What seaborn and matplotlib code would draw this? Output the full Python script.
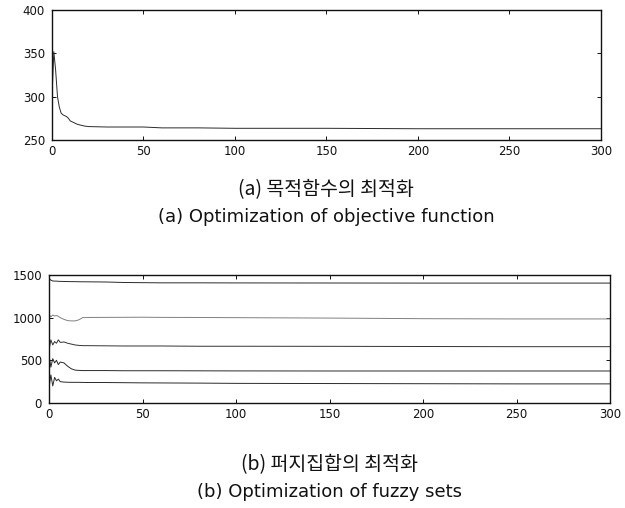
import matplotlib
matplotlib.use("Agg")
import matplotlib.pyplot as plt
import seaborn as sns
import pandas as pd

# ---- data (a): objective function ----
obj_iter = [0, 1, 2, 3, 4, 5, 6, 7, 8, 9, 10, 12, 14, 16, 18, 20, 30, 50, 60, 80, 100, 150, 200, 250, 300]
obj_val = [300, 352, 330, 300, 288, 281, 279, 278, 277, 275, 272, 270, 268, 267, 266, 265.5, 265, 265, 264, 264, 263.5, 263.5, 263, 263, 263]

# ---- data (b): fuzzy set centres ----
fz_iter = [0, 1, 2, 3, 4, 5, 6, 8, 10, 12, 14, 16, 18, 20, 30, 40, 50, 60, 80, 100, 150, 200, 250, 300]
fz_set1 = [1460, 1440, 1430, 1428, 1428, 1426, 1425, 1424, 1423, 1422, 1422, 1421, 1420, 1420, 1418, 1412, 1410, 1408, 1408, 1407, 1406, 1405, 1405, 1405]
fz_set2 = [1040, 1010, 1030, 1020, 1025, 1015, 1000, 980, 965, 962, 962, 975, 1000, 1002, 1003, 1004, 1005, 1003, 1002, 1000, 995, 988, 985, 985]
fz_set3 = [620, 740, 680, 720, 700, 740, 710, 715, 700, 690, 680, 675, 672, 672, 670, 668, 668, 668, 665, 665, 664, 662, 660, 660]
fz_set4 = [560, 420, 520, 470, 500, 450, 480, 470, 430, 400, 385, 382, 380, 380, 380, 378, 378, 378, 377, 376, 375, 375, 375, 375]
fz_set5 = [180, 330, 200, 300, 260, 280, 250, 245, 243, 242, 242, 242, 241, 240, 240, 238, 236, 235, 233, 230, 228, 226, 224, 224]

obj_xticks = [0, 50, 100, 150, 200, 250, 300]
obj_yticks = [250, 300, 350, 400]
fz_yticks = [0, 500, 1000, 1500]

cap_a_kr = "(a) 목적함수의 최적화"
cap_a_en = "(a) Optimization of objective function"
cap_b_kr = "(b) 퍼지집합의 최적화"
cap_b_en = "(b) Optimization of fuzzy sets"

sns.set_style("ticks")
plt.rcParams["font.family"] = ["DejaVu Sans", "Noto Sans CJK KR"]
plt.rcParams["xtick.direction"] = "in"
plt.rcParams["ytick.direction"] = "in"

fig = plt.figure(figsize=(6.25, 5.08), dpi=100)
ax1 = fig.add_axes([0.0832, 0.7244, 0.878, 0.2559])
ax2 = fig.add_axes([0.0784, 0.2067, 0.8976, 0.2520])

df_a = pd.DataFrame({"iter": obj_iter, "val": obj_val})
sns.lineplot(data=df_a, x="iter", y="val", ax=ax1, color="#2a2a2a", linewidth=0.7)

fz_sets = [fz_set1, fz_set2, fz_set3, fz_set4, fz_set5]
fz_cols = ["#2a2a2a", "#808080", "#333333", "#2a2a2a", "#2a2a2a"]
for s, c in zip(fz_sets, fz_cols):
    df_b = pd.DataFrame({"iter": fz_iter, "val": s})
    sns.lineplot(data=df_b, x="iter", y="val", ax=ax2, color=c, linewidth=0.7)

for ax, yt, ylim in [(ax1, obj_yticks, (250, 400)), (ax2, fz_yticks, (0, 1500))]:
    ax.set_xlim(0, 300)
    ax.set_ylim(*ylim)
    ax.set_xticks(obj_xticks)
    ax.set_yticks(yt)
    ax.set_xlabel("")
    ax.set_ylabel("")
    ax.tick_params(axis="both", which="both", top=True, right=True, length=3,
                   width=0.7, labelsize=8.5, colors="#111111")
    ax.tick_params(axis="x", pad=3.5)
    ax.tick_params(axis="y", pad=5)
    for sp in ax.spines.values():
        sp.set_visible(True)
        sp.set_linewidth(1.0)
        sp.set_color("#111111")

cx1 = 0.0832 + 0.878 / 2
cx2 = 0.0784 + 0.8976 / 2
fig.text(cx1, 0.626, cap_a_kr, ha="center", va="center", fontsize=14,
         family=["Noto Sans CJK KR", "DejaVu Sans"], color="#111111")
fig.text(cx1, 0.573, cap_a_en, ha="center", va="center", fontsize=13,
         family=["DejaVu Sans"], color="#111111")
fig.text(cx2, 0.085, cap_b_kr, ha="center", va="center", fontsize=14,
         family=["Noto Sans CJK KR", "DejaVu Sans"], color="#111111")
fig.text(cx2, 0.031, cap_b_en, ha="center", va="center", fontsize=13,
         family=["DejaVu Sans"], color="#111111")

fig.savefig("out.png", dpi=100)
